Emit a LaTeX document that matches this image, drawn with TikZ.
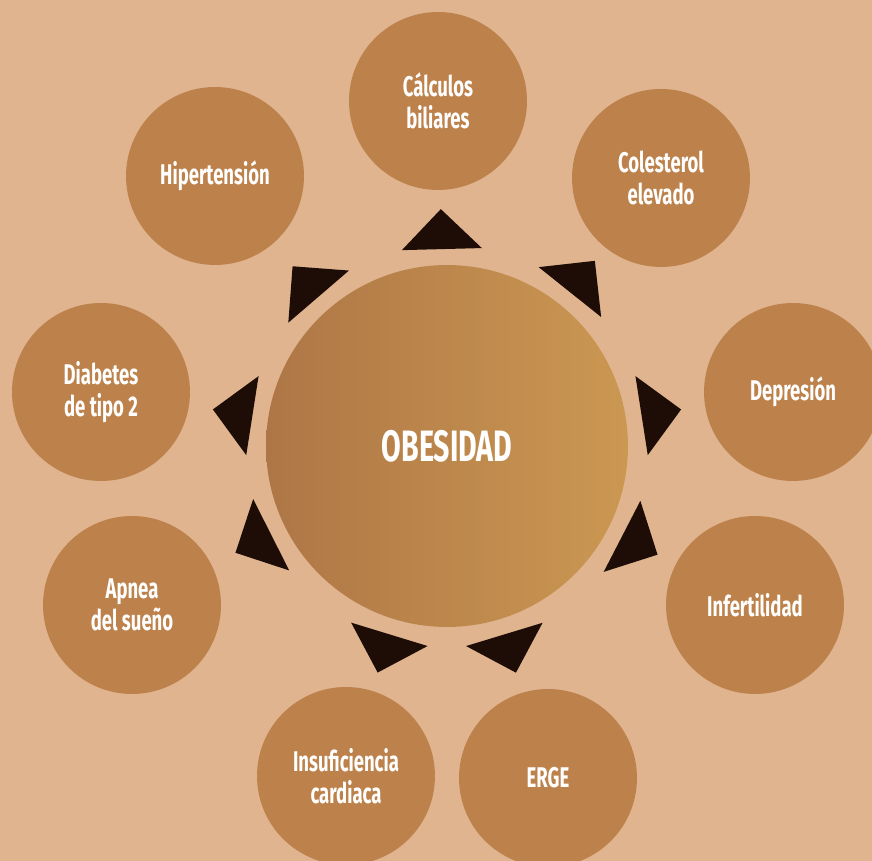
\documentclass[tikz,border=0pt]{standalone}
\usepackage{fontspec}
\newfontfamily\labfont[FakeStretch=0.65]{Fira Sans}
\usepackage{tikz}
\usetikzlibrary{calc}
\definecolor{fondo}{RGB}{224,180,143}
\definecolor{causafill}{RGB}{189,130,75}
\definecolor{flechafill}{RGB}{30,13,7}
\definecolor{obizq}{RGB}{174,118,70}
\definecolor{obder}{RGB}{203,152,82}

\begin{document}
\begin{tikzpicture}[x=0.02cm, y=0.02cm,
    causa/.style={circle, fill=causafill, minimum size=3.56cm, inner sep=0pt, align=center,
      text=white, font=\labfont\bfseries\fontsize{16.2}{18.2}\selectfont},
    centro/.style={circle, minimum size=7.24cm, inner sep=0pt, left color=obizq, right color=obder,
      text=white, font=\labfont\bfseries\fontsize{25}{28}\selectfont},
    flecha/.style={fill=flechafill}]
    \useasboundingbox (0,0) rectangle (872,861);
    \clip (0,0) rectangle (872,861);
    \fill[fondo] (0,0) rectangle (872,861);
    \node[centro] (ob) at (447,415) {OBESIDAD};
    \node[causa] (cal) at (438,760) {Cálculos\\biliares};
    \node[causa] (col) at (661,683) {Colesterol\\elevado};
    \node[causa] (dep) at (793,469) {Depresión};
    \node[causa] (inf) at (755,256) {Infertilidad};
    \node[causa] (erg) at (548,83) {ERGE};
    \node[causa] (ins) at (346,85) {Insuficiencia\\cardiaca};
    \node[causa] (apn) at (132,256) {Apnea\\del sueño};
    \node[causa] (dia) at (101,469) {Diabetes\\de tipo 2};
    \node[causa] (hip) at (215,685) {Hipertensión};
    % triangles pointing from the centre to each circle
    \foreach \n in {cal,col,dep,inf,erg,ins,apn,dia,hip} {
      \coordinate (m\n) at ($(ob.center)!3.94cm!(\n.center)$);
      \fill[flecha] ($(ob.center)!4.74cm!(\n.center)$) -- ($(m\n)!0.8cm!90:(\n.center)$)
        -- ($(m\n)!0.8cm!-90:(\n.center)$) -- cycle;
    }
\end{tikzpicture}
\end{document}
